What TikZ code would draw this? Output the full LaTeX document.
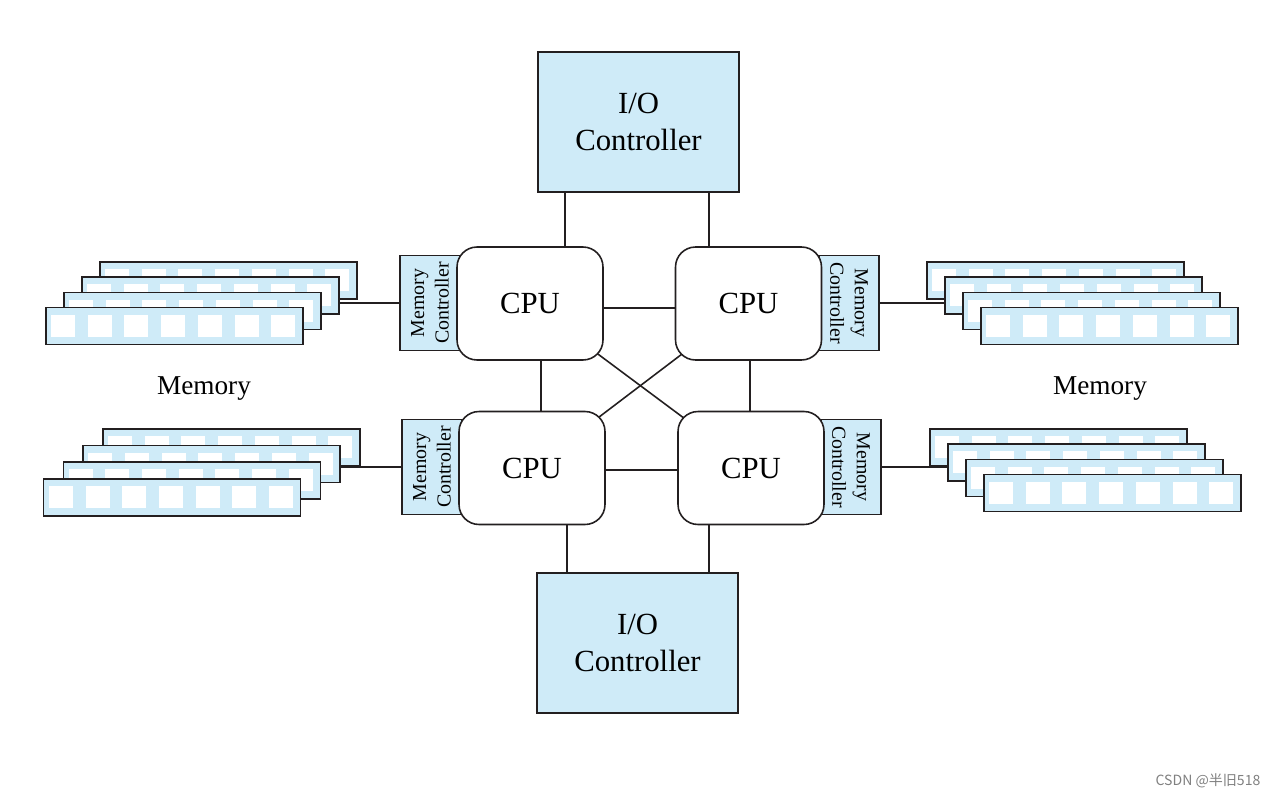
\documentclass[tikz,border=0pt]{standalone}
\usepackage{fontspec}
\setmainfont{Liberation Serif}
\newfontfamily\cjkfont{Noto Sans CJK SC}
\usepackage{tikz}
\usetikzlibrary{calc,backgrounds}
\definecolor{lightblue}{HTML}{CFEBF8}
\definecolor{ink}{HTML}{231F20}

\begin{document}
\begin{tikzpicture}[x=0.02cm,y=-0.02cm,line width=0.9pt,
  box/.style={draw=ink,fill=lightblue},
  ioc/.style={box,minimum width=4.02cm,minimum height=2.8cm,align=center,font=\fontsize{17.5}{21}\selectfont},
  cpu/.style={draw=ink,fill=white,rounded corners=0.4cm,minimum width=2.92cm,minimum height=2.26cm,font=\fontsize{17.5}{21}\selectfont},
  memctl/.style={box,minimum width=1.9cm,minimum height=1.2cm,inner sep=0pt,align=center,font=\fontsize{11.3}{14}\selectfont},
  dimm/.style={box,anchor=north west,minimum width=5.14cm,minimum height=0.74cm,inner sep=0pt},
  link/.style={draw=ink,line width=0.9pt},
  lbl/.style={font=\fontsize{15.5}{18}\selectfont}]
\useasboundingbox (0,0) rectangle (1278,798);
\node[ioc] (ioT) at (638.5,122) {I/O\\Controller};
\node[ioc] (ioB) at (637.5,643) {I/O\\Controller};
\foreach \k in {0,...,3} {
  \node[dimm] (mTL\k) at (99-18*\k,261+15.3*\k) {};
  \foreach \c in {0,...,6} \fill[white] ($(mTL\k.north west)+(6+36.7*\c,8)$) rectangle +(24,22);
  \node[dimm] (mBL\k) at (102-19.7*\k,428+16.7*\k) {};
  \foreach \c in {0,...,6} \fill[white] ($(mBL\k.north west)+(6+36.7*\c,8)$) rectangle +(24,22);
  \node[dimm] (mTR\k) at (926+18*\k,261+15.3*\k) {};
  \foreach \c in {0,...,6} \fill[white] ($(mTR\k.north west)+(6+36.7*\c,8)$) rectangle +(24,22);
  \node[dimm] (mBR\k) at (929+18*\k,428+15.3*\k) {};
  \foreach \c in {0,...,6} \fill[white] ($(mBR\k.north west)+(6+36.7*\c,8)$) rectangle +(24,22);
}
\node[memctl,rotate=90] (mcTL) at (430,303) {Memory\\Controller};
\node[memctl,rotate=-90] (mcTR) at (849,303) {Memory\\Controller};
\node[memctl,rotate=90] (mcBL) at (432,467) {Memory\\Controller};
\node[memctl,rotate=-90] (mcBR) at (851,467) {Memory\\Controller};
\node[cpu] (cTL) at (530,303.5) {CPU};
\node[cpu] (cTR) at (748.5,303.5) {CPU};
\node[cpu] (cBL) at (532,468) {CPU};
\node[cpu] (cBR) at (751,468) {CPU};
\node[lbl] (memL) at (204,389) {Memory};
\node[lbl] (memR) at (1100,389) {Memory};
\draw[link] (mcTL.north) -- (mcTL.north -| mTL1.east);
\draw[link] (mcBL.north) -- (mcBL.north -| mBL1.east);
\draw[link] (mcTR.north) -- (mcTR.north -| mTR1.west);
\draw[link] (mcBR.north) -- (mcBR.north -| mBR1.west);
\draw[link] ([yshift=-0.09cm]cTL.east) -- ([yshift=-0.09cm]cTL.east -| cTR.west);
\draw[link] ([yshift=-0.04cm]cBL.east) -- ([yshift=-0.04cm]cBL.east -| cBR.west);
\draw[link] ([xshift=0.22cm]cTL.south) -- ([xshift=0.22cm]cTL.south |- cBL.north);
\draw[link] ([xshift=0.03cm]cTR.south) -- ([xshift=0.03cm]cTR.south |- cBR.north);
\begin{scope}[on background layer]
\draw[link] (cTL.center) -- (cBR.center);
\draw[link] (cTR.center) -- (cBL.center);
\end{scope}
\draw[link] ([xshift=0.7cm]cTL.north) -- ([xshift=0.7cm]cTL.north |- ioT.south);
\draw[link] ([xshift=-0.79cm]cTR.north) -- ([xshift=-0.79cm]cTR.north |- ioT.south);
\draw[link] ([xshift=0.7cm]cBL.south) -- ([xshift=0.7cm]cBL.south |- ioB.north);
\draw[link] ([xshift=-0.84cm]cBR.south) -- ([xshift=-0.84cm]cBR.south |- ioB.north);
\node[font=\cjkfont\fontsize{8}{10}\selectfont,text=gray] (mark) at (1208,781) {CSDN @半旧518};
\end{tikzpicture}
\end{document}
